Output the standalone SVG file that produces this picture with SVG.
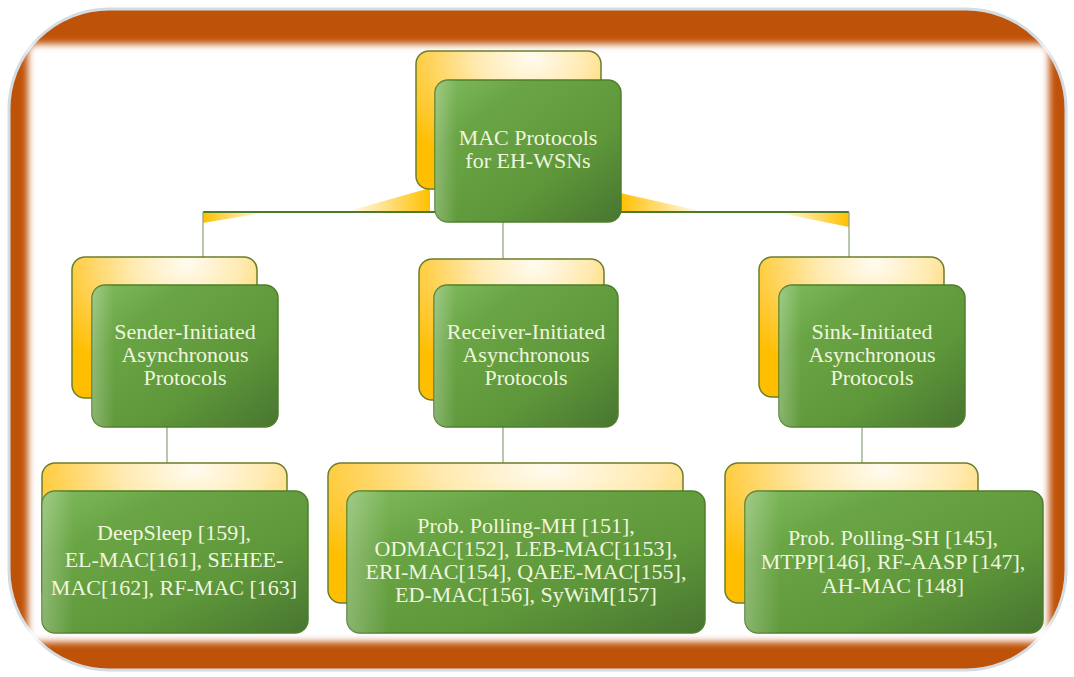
<svg xmlns="http://www.w3.org/2000/svg" width="1074" height="677" viewBox="0 0 1074 677">
  <defs>
    <linearGradient id="gGreen" x1="0" y1="0" x2="1" y2="1">
      <stop offset="0" stop-color="#80BB5E"/>
      <stop offset="0.25" stop-color="#6AA545"/>
      <stop offset="0.65" stop-color="#5E973A"/>
      <stop offset="1" stop-color="#487530"/>
    </linearGradient>
    <linearGradient id="gSheen" x1="0" y1="0" x2="1" y2="0">
      <stop offset="0" stop-color="#ffffff" stop-opacity="0.25"/>
      <stop offset="0.12" stop-color="#ffffff" stop-opacity="0"/>
      <stop offset="1" stop-color="#ffffff" stop-opacity="0"/>
    </linearGradient>
    <radialGradient id="gGold" cx="0.62" cy="0.05" r="0.85" fx="0.62" fy="0.05">
      <stop offset="0" stop-color="#FFFBF0"/>
      <stop offset="0.35" stop-color="#FFEAB0"/>
      <stop offset="0.75" stop-color="#FFCB3A"/>
      <stop offset="1" stop-color="#FFBE00"/>
    </radialGradient>
    <linearGradient id="wedgeR" x1="0" y1="0" x2="1" y2="0">
      <stop offset="0" stop-color="#FFC000" stop-opacity="0"/>
      <stop offset="1" stop-color="#FFC000"/>
    </linearGradient>
    <linearGradient id="wedgeL" x1="0" y1="0" x2="1" y2="0">
      <stop offset="0" stop-color="#FFC000"/>
      <stop offset="1" stop-color="#FFC000" stop-opacity="0"/>
    </linearGradient>
    <filter id="soft" x="-5%" y="-5%" width="110%" height="110%">
      <feGaussianBlur stdDeviation="3.5"/>
    </filter>
    <style>
      .back { fill: url(#gGold); stroke: #6B7F2A; stroke-width: 1.5; }
      .front { fill: url(#gGreen); stroke: #4F7F2B; stroke-width: 1.5; }
      .sheen { fill: url(#gSheen); }
      .label { font-family: "Liberation Serif", "DejaVu Serif", "Times New Roman", serif; font-size: 22px; fill: #EFF6DF; text-anchor: middle; }
      .link { stroke: #93A882; stroke-width: 1.3; fill: none; }
      .bar { stroke: #4E7A2C; stroke-width: 2; fill: none; }
    </style>
  </defs>

  <!-- picture frame -->
  <g id="frame">
    <rect x="0" y="0" width="1074" height="677" fill="#ffffff"/>
    <rect x="9" y="9" width="1057" height="661" rx="100" ry="100" fill="#BF5209" stroke="#D3DCE2" stroke-width="3"/>
    <rect x="28" y="44" width="1021" height="598" rx="8" fill="#ffffff" filter="url(#soft)"/>
  </g>

  <!-- connectors -->
  <g id="connectors">
    <polygon points="203,212 203,223 268,212" fill="url(#wedgeL)"/>
    <polygon points="345,212 430,212 430,188" fill="url(#wedgeR)"/>
    <polygon points="620,193 620,212 705,212" fill="url(#wedgeL)"/>
    <polygon points="775,212 849,212 849,227" fill="url(#wedgeR)"/>
    <path class="bar" d="M203,212 H849"/>
    <path class="link" d="M203,212 V257"/>
    <path class="link" d="M849,212 V257"/>
    <path class="link" d="M503,222 V259"/>
    <path class="link" d="M167,427 V463"/>
    <path class="link" d="M503,427 V463"/>
    <path class="link" d="M862,427 V463"/>
  </g>

  <!-- root -->
  <g id="root">
    <rect class="back" x="416" y="51" width="185" height="138" rx="13"/>
    <rect class="front" x="435" y="80" width="186" height="142" rx="13"/>
    <rect class="sheen" x="435" y="80" width="186" height="142" rx="13"/>
    <text class="label" x="528" y="145">MAC Protocols</text>
    <text class="label" x="528" y="168">for EH-WSNs</text>
  </g>

  <!-- sender-initiated -->
  <g id="sender">
    <rect class="back" x="72" y="257" width="185" height="141" rx="13"/>
    <rect class="front" x="92" y="285" width="186" height="142" rx="13"/>
    <rect class="sheen" x="92" y="285" width="186" height="142" rx="13"/>
    <text class="label" x="185" y="339">Sender-Initiated</text>
    <text class="label" x="185" y="362">Asynchronous</text>
    <text class="label" x="185" y="385">Protocols</text>
  </g>

  <!-- receiver-initiated -->
  <g id="receiver">
    <rect class="back" x="419" y="259" width="185" height="141" rx="13"/>
    <rect class="front" x="434" y="285" width="184" height="142" rx="13"/>
    <rect class="sheen" x="434" y="285" width="184" height="142" rx="13"/>
    <text class="label" x="526" y="339">Receiver-Initiated</text>
    <text class="label" x="526" y="362">Asynchronous</text>
    <text class="label" x="526" y="385">Protocols</text>
  </g>

  <!-- sink-initiated -->
  <g id="sink">
    <rect class="back" x="759" y="257" width="185" height="140" rx="13"/>
    <rect class="front" x="779" y="285" width="186" height="142" rx="13"/>
    <rect class="sheen" x="779" y="285" width="186" height="142" rx="13"/>
    <text class="label" x="872" y="339">Sink-Initiated</text>
    <text class="label" x="872" y="362">Asynchronous</text>
    <text class="label" x="872" y="385">Protocols</text>
  </g>

  <!-- sender-initiated protocols -->
  <g id="sender-list">
    <rect class="back" x="42" y="463" width="245" height="140" rx="13"/>
    <rect class="front" x="42" y="491" width="266" height="142" rx="13"/>
    <rect class="sheen" x="42" y="491" width="266" height="142" rx="13"/>
    <text class="label" x="174" y="540">DeepSleep [159],</text>
    <text class="label" x="174" y="567">EL-MAC[161], SEHEE-</text>
    <text class="label" x="174" y="595">MAC[162], RF-MAC [163]</text>
  </g>

  <!-- receiver-initiated protocols -->
  <g id="receiver-list">
    <rect class="back" x="328" y="463" width="355" height="140" rx="13"/>
    <rect class="front" x="347" y="491" width="358" height="142" rx="13"/>
    <rect class="sheen" x="347" y="491" width="358" height="142" rx="13"/>
    <text class="label" x="526" y="533">Prob. Polling-MH [151],</text>
    <text class="label" x="526" y="556">ODMAC[152], LEB-MAC[1153],</text>
    <text class="label" x="526" y="579">ERI-MAC[154], QAEE-MAC[155],</text>
    <text class="label" x="526" y="602">ED-MAC[156], SyWiM[157]</text>
  </g>

  <!-- sink-initiated protocols -->
  <g id="sink-list">
    <rect class="back" x="725" y="463" width="253" height="140" rx="13"/>
    <rect class="front" x="745" y="491" width="298" height="142" rx="13"/>
    <rect class="sheen" x="745" y="491" width="298" height="142" rx="13"/>
    <text class="label" x="893" y="545">Prob. Polling-SH [145],</text>
    <text class="label" x="893" y="569">MTPP[146], RF-AASP [147],</text>
    <text class="label" x="893" y="593">AH-MAC [148]</text>
  </g>
</svg>
